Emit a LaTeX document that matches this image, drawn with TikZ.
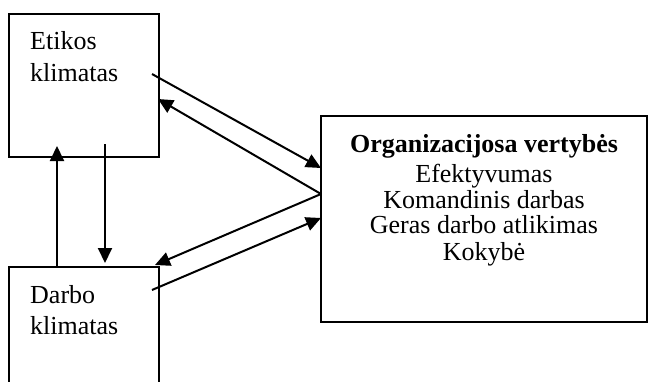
\documentclass[tikz,border=0pt]{standalone}
\usepackage{fontspec}
\setmainfont{Liberation Serif}
\usetikzlibrary{arrows.meta}
\begin{document}
\begin{tikzpicture}[x=1pt,y=-1pt,
 box/.style={draw,line width=1.5pt,inner sep=0pt,outer sep=0pt,rectangle},
 lbl/.style={font=\fontsize{26}{30}\selectfont,inner sep=0pt,anchor=base west},
 ctr/.style={font=\fontsize{26}{30}\selectfont,inner sep=0pt,anchor=base},
 arr/.style={line width=2pt,-{Triangle[length=15pt,width=14pt]}}]
\useasboundingbox (0,0) rectangle (649,381);
\clip (0,0) rectangle (649,381);
% boxes
\node[box,minimum width=150pt,minimum height=143pt] (etik) at (84,85.5) {};
\node[box,minimum width=150pt,minimum height=153pt] (darb) at (84,343.5) {};
\node[box,minimum width=326pt,minimum height=206pt] (org) at (484,219) {};
% texts
\node[lbl] (t1) at (30,49) {Etikos};
\node[lbl] (t2) at (30,81) {klimatas};
\node[lbl] (t3) at (30,303) {Darbo};
\node[lbl] (t4) at (30,334) {klimatas};
\node[ctr] (o1) at (484,152) {\bfseries Organizacijosa vertybės};
\node[ctr] (o2) at (484,182) {Efektyvumas};
\node[ctr] (o3) at (484,208) {Komandinis darbas};
\node[ctr] (o4) at (484,233) {Geras darbo atlikimas};
\node[ctr] (o5) at (484,260) {Kokybė};
% connector points
\coordinate (a1s) at (152,74);
\coordinate (a1e) at (321,168);
\coordinate (hub) at (321,194);
\coordinate (a2e) at (158,99);
\coordinate (a3e) at (155,265);
\coordinate (a4s) at (152,290);
\coordinate (a4e) at (321,218);
\coordinate (v1s) at (57,267);
\coordinate (v1e) at (57,146);
\coordinate (v2s) at (105,144);
\coordinate (v2e) at (105,263);
% connectors
\draw[arr] (a1s) -- (a1e);
\draw[arr] (hub) -- (a2e);
\draw[arr] (hub) -- (a3e);
\draw[arr] (a4s) -- (a4e);
\draw[arr] (v1s) -- (v1e);
\draw[arr] (v2s) -- (v2e);
\end{tikzpicture}
\end{document}
